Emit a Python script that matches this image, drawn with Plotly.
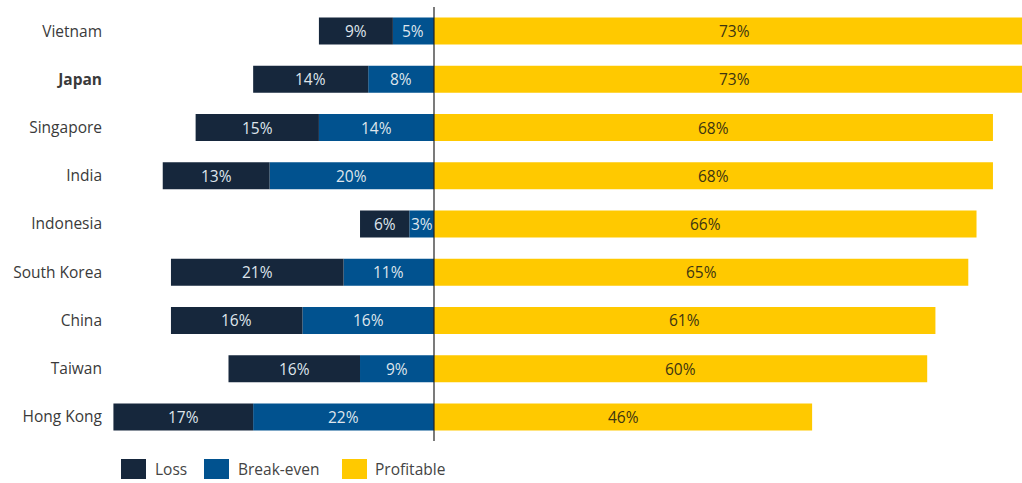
import plotly.graph_objects as go

# Share of companies by outcome, per market (%)
markets = ["Vietnam", "Japan", "Singapore", "India", "Indonesia",
           "South Korea", "China", "Taiwan", "Hong Kong"]
loss = [9, 14, 15, 13, 6, 21, 16, 16, 17]
break_even = [5, 8, 14, 20, 3, 11, 16, 9, 22]
profitable = [73, 73, 68, 68, 66, 65, 61, 60, 46]

series_names = ["Loss", "Break-even", "Profitable"]
colors = {"Loss": "#16273c", "Break-even": "#01528f", "Profitable": "#ffc900"}

FONT = "Open Sans"
tick_text = [f"<b>{m}</b>" if m == "Japan" else m for m in markets]

fig = go.Figure()
# Break-even sits next to zero, loss stacks further left
fig.add_trace(go.Bar(y=markets, x=[-v for v in break_even], orientation="h",
                     name="Break-even", marker_color=colors["Break-even"],
                     marker_line_width=0, showlegend=False))
fig.add_trace(go.Bar(y=markets, x=[-v for v in loss], orientation="h",
                     name="Loss", marker_color=colors["Loss"],
                     marker_line_width=0, showlegend=False))
fig.add_trace(go.Bar(y=markets, x=profitable, orientation="h",
                     name="Profitable", marker_color=colors["Profitable"],
                     marker_line_width=0, showlegend=False))

annotations = []
label_font = dict(family=FONT, size=15.5)
for m, l, b, p in zip(markets, loss, break_even, profitable):
    annotations.append(dict(x=-b / 2, y=m, text=f"{b}%", showarrow=False,
                            font=dict(label_font, color="#dfe5ec")))
    annotations.append(dict(x=-(b + l / 2), y=m, text=f"{l}%", showarrow=False,
                            font=dict(label_font, color="#dfe5ec")))
    annotations.append(dict(x=p / 2, y=m, text=f"{p}%", showarrow=False,
                            font=dict(label_font, color="#3d3512")))

# Custom legend with large square swatches below the plot
L, T, W, H = 105, 7, 917, 434
def px_x(px):
    return (px - L) / W
def px_y(py):
    return (T + H - py) / H

shapes = []
swatch_left = [121, 204, 342]
text_left = [153, 236, 373]
for name, sx, tx in zip(series_names, swatch_left, text_left):
    shapes.append(dict(type="rect", xref="paper", yref="paper",
                       x0=px_x(sx), x1=px_x(sx + 25), y0=px_y(479), y1=px_y(459),
                       fillcolor=colors[name], line_width=0))
    annotations.append(dict(xref="paper", yref="paper", x=px_x(tx), y=px_y(469),
                            xanchor="left", yanchor="middle", text=name,
                            showarrow=False,
                            font=dict(family=FONT, size=15.5, color="#444444")))

# Zero line
shapes.append(dict(type="line", xref="x", yref="paper", x0=0, x1=0, y0=0, y1=1,
                   line=dict(color="#222222", width=1.2)))

fig.update_layout(
    barmode="relative",
    bargap=0.44,
    width=1022, height=483,
    margin=dict(l=L, r=0, t=T, b=483 - T - H),
    paper_bgcolor="white", plot_bgcolor="white",
    xaxis=dict(range=[-(434 - L) / 8.22, (1022 - 434) / 8.22], visible=False,
               fixedrange=True),
    yaxis=dict(categoryorder="array", categoryarray=markets[::-1],
               tickvals=markets, ticktext=tick_text, showgrid=False,
               zeroline=False, showline=False, ticks="", ticklabelstandoff=2,
               tickfont=dict(family=FONT, size=15.5, color="#3a3a3a")),
    shapes=shapes,
    annotations=annotations,
    showlegend=False,
)

fig.write_html("out.html")
